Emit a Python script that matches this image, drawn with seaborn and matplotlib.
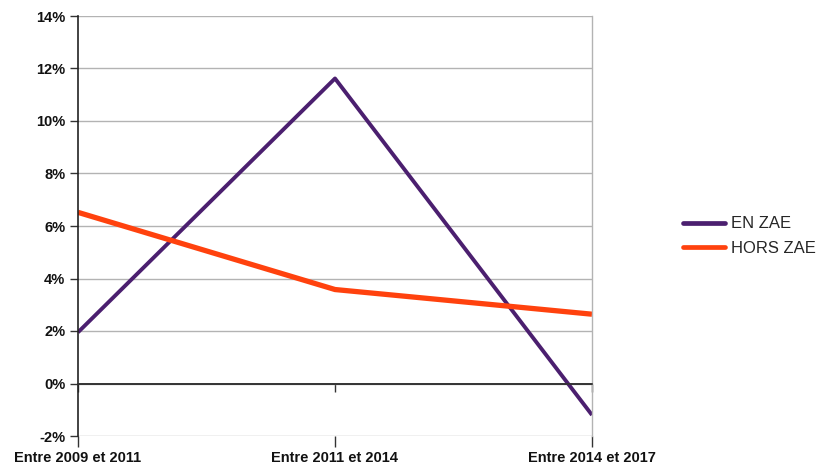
import matplotlib
matplotlib.use("Agg")
import matplotlib.pyplot as plt
import seaborn as sns
import pandas as pd
from matplotlib.ticker import FuncFormatter, FixedLocator
from matplotlib.lines import Line2D

periods = ["Entre 2009 et 2011", "Entre 2011 et 2014", "Entre 2014 et 2017"]
en_zae = [1.95, 11.62, -1.2]
hors_zae = [6.52, 3.58, 2.64]
series_names = ["EN ZAE", "HORS ZAE"]
y_ticks = [-2, 0, 2, 4, 6, 8, 10, 12, 14]

df = pd.DataFrame({
    "x": list(range(len(periods))) * 2,
    "val": en_zae + hors_zae,
    "serie": [series_names[0]] * 3 + [series_names[1]] * 3,
})

sns.set_style("white")
plt.rcParams["font.family"] = ["Liberation Sans", "DejaVu Sans"]

fig = plt.figure(figsize=(8.23, 4.65), dpi=100)
ax = fig.add_axes([78 / 823, 29 / 465, (592 - 78) / 823, (436 - 16) / 465])

palette = {"EN ZAE": "#4b1f6f", "HORS ZAE": "#ff420e"}
sns.lineplot(data=df, x="x", y="val", hue="serie", palette=palette, ax=ax,
             legend=False, sort=False)
ax.lines[0].set_linewidth(2.8)
ax.lines[1].set_linewidth(3.8)
for ln in ax.lines:
    ln.set_solid_capstyle("butt")

ax.set_xlim(0, len(periods) - 1)
ax.set_ylim(-2, 14)
ax.yaxis.set_major_locator(FixedLocator(y_ticks))
ax.yaxis.set_major_formatter(FuncFormatter(lambda v, p: f"{v:.0f}%"))
ax.grid(axis="y", color="#b3b3b3", linewidth=1)
ax.grid(axis="x", visible=False)
ax.axhline(0, color="#333333", linewidth=1.2, zorder=1.5)

ax.spines["top"].set_visible(False)
ax.spines["right"].set_color("#b3b3b3")
ax.spines["right"].set_linewidth(1)
ax.spines["left"].set_color("#222222")
ax.spines["left"].set_linewidth(1.2)
ax.spines["bottom"].set_position(("data", 0))
ax.spines["bottom"].set_color("#333333")
ax.spines["bottom"].set_linewidth(1.2)

ax.set_xticks(range(len(periods)))
ax.set_xticklabels([])
ax.tick_params(axis="x", direction="out", length=6, width=1, color="#333333", bottom=True)
ax.tick_params(axis="y", direction="out", length=6, width=1, color="#333333", left=True,
               labelsize=10.5, pad=3)
for lab in ax.get_yticklabels():
    lab.set_fontweight("bold")
    lab.set_color("#111111")
ax.set_xlabel("")
ax.set_ylabel("")

sec = ax.secondary_xaxis(0)
sec.set_xticks(range(len(periods)))
sec.set_xticklabels(periods, fontsize=10.5, fontweight="bold", color="#111111")
sec.tick_params(axis="x", direction="out", length=8, width=1, color="#333333", pad=3)
sec.spines["bottom"].set_visible(False)

handles = [Line2D([], [], color=palette[n], linewidth=3.4) for n in series_names]
fig.legend(handles, series_names, loc="center left", bbox_to_anchor=(683 / 823, 1 - 236 / 465),
           frameon=False, fontsize=12, handlelength=2.5, handletextpad=0.36,
           labelspacing=0.55, borderpad=0, borderaxespad=0)

fig.savefig("out.png", dpi=100)
